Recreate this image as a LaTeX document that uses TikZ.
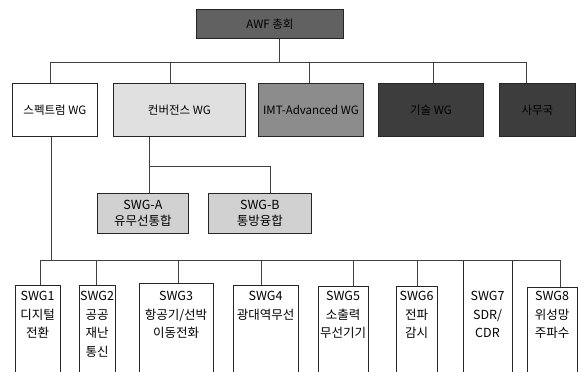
\documentclass[tikz,border=0pt]{standalone}
\usepackage{fontspec}
\setmainfont{Noto Sans CJK KR}
\begin{document}
\begin{tikzpicture}[x=1pt,y=-1pt,
  box/.style={draw=black!85, line width=0.8pt, inner sep=0pt, anchor=north west,
              font=\fontsize{11.5}{13}\selectfont, align=center},
  conn/.style={draw=black!75, line width=0.7pt},
  swgab/.style={font=\fontsize{12.5}{16.5}\selectfont},
  sub/.style={font=\fontsize{12.5}{18.5}\selectfont, align=center, inner sep=0pt, anchor=north}]
\useasboundingbox (0,0) rectangle (584,372);
\clip (0,0) rectangle (584,372);

% top
\node[box, fill=black!62, minimum width=147pt, minimum height=29pt] (top) at (196,9) {AWF 총회};

% row 2
\node[box, fill=white,    minimum width=85pt,  minimum height=53pt] (b1) at (12,83)  {스펙트럼 WG};
\node[box, fill=black!12, minimum width=132pt, minimum height=53pt] (b2) at (113,83) {컨버전스 WG};
\node[box, fill=black!45, minimum width=105pt, minimum height=53pt] (b3) at (258,83) {IMT-Advanced WG};
\node[box, fill=black!76, minimum width=105pt, minimum height=53pt] (b4) at (378,83) {기술 WG};
\node[box, fill=black!76, minimum width=76pt,  minimum height=53pt] (b5) at (499,83) {사무국};

% sub groups of convergence
\node[box, swgab, fill=black!18, minimum width=91pt,  minimum height=40pt] (sa) at (97,193)  {SWG-A\\유무선통합};
\node[box, swgab, fill=black!18, minimum width=103pt, minimum height=40pt] (sb) at (208,193) {SWG-B\\통방융합};

% bottom row boxes
\node[box, minimum width=45pt, minimum height=100pt] (s1) at (15,285)  {};
\node[box, line width=1.1pt, minimum width=36pt, minimum height=100pt] (s2) at (79,285)  {};
\node[box, minimum width=74pt, minimum height=100pt] (s3) at (139,283) {};
\node[box, minimum width=65pt, minimum height=100pt] (s4) at (233,285) {};
\node[box, minimum width=50pt, minimum height=100pt] (s5) at (318,286) {};
\node[box, line width=1.1pt, minimum width=41pt, minimum height=100pt] (s6) at (396,286) {};
\node[box, minimum width=49pt, minimum height=120pt] (s7) at (463,260) {};
\node[box, minimum width=50pt, minimum height=100pt] (s8) at (527,287) {};

\node[sub] (t1) at (37.5,291) {SWG1\\디지털\\전환};
\node[sub] (t2) at (97,291)   {SWG2\\공공\\재난\\통신};
\node[sub] (t3) at (176,291)  {SWG3\\항공기/선박\\이동전화};
\node[sub] (t4) at (265.5,291){SWG4\\광대역무선};
\node[sub] (t5) at (343,291)  {SWG5\\소출력\\무선기기};
\node[sub] (t6) at (416.5,291){SWG6\\전파\\감시};
\node[sub] (t7) at (487.5,291){SWG7\\SDR/\\CDR};
\node[sub] (t8) at (552,291)  {SWG8\\위성망\\주파수};

% top bus
\coordinate (tj) at (279,62);
\coordinate (j1) at (50,62);
\coordinate (j2) at (170,62);
\coordinate (j3) at (309,62);
\coordinate (j4) at (433,62);
\coordinate (j5) at (526,62);
\draw[conn] (tj |- top.south) -- (tj);
\draw[conn] (j1) -- (j5);
\draw[conn] (j1) -- (j1 |- b1.north);
\draw[conn] (j2) -- (j2 |- b2.north);
\draw[conn] (j3) -- (j3 |- b3.north);
\draw[conn] (j4) -- (j4 |- b4.north);
\draw[conn] (j5) -- (j5 |- b5.north);

% convergence branch
\coordinate (cL) at (149,166);
\coordinate (cR) at (270,166);
\draw[conn] (cL |- b2.south) -- (cL) -- (cR);
\draw[conn] (cL) -- (cL |- sa.north);
\draw[conn] (cR) -- (cR |- sb.north);

% spectrum branch
\coordinate (sp) at (51.5,260);
\coordinate (d1) at (40.7,260);
\coordinate (d2) at (96.7,260);
\coordinate (d3) at (178,260);
\coordinate (d4) at (261,260);
\coordinate (d5) at (353,260);
\coordinate (d6) at (417,260);
\coordinate (d8) at (560,260);
\draw[conn] (sp |- b1.south) -- (sp);
\draw[conn] (d1) -- (d8);
\draw[conn] (d1) -- (d1 |- s1.north);
\draw[conn] (d2) -- (d2 |- s2.north);
\draw[conn] (d3) -- (d3 |- s3.north);
\draw[conn] (d4) -- (d4 |- s4.north);
\draw[conn] (d5) -- (d5 |- s5.north);
\draw[conn] (d6) -- (d6 |- s6.north);
\draw[conn] (d8) -- (d8 |- s8.north);
\end{tikzpicture}
\end{document}
